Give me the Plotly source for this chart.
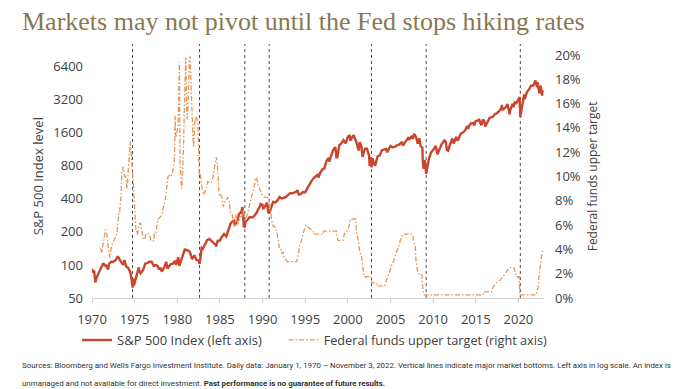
import plotly.graph_objects as go

# ---------------- data ----------------
sp_dates = [
    "1970-01-02", "1970-01-30", "1970-03-31", "1970-05-26", "1970-07-31", "1970-09-30", "1970-12-31",
    "1971-03-31", "1971-04-28", "1971-06-30", "1971-08-31", "1971-11-23", "1971-12-31",
    "1972-03-31", "1972-06-30", "1972-09-29", "1972-12-29",
    "1973-01-11", "1973-03-30", "1973-06-29", "1973-08-22", "1973-10-26", "1973-12-31",
    "1974-03-29", "1974-06-28", "1974-08-30", "1974-10-03", "1974-11-08", "1974-12-06", "1974-12-31",
    "1975-03-31", "1975-06-30", "1975-07-15", "1975-09-16", "1975-12-31",
    "1976-03-31", "1976-06-30", "1976-09-21", "1976-12-31",
    "1977-03-31", "1977-06-30", "1977-09-30", "1977-11-02", "1977-12-30",
    "1978-03-06", "1978-06-30", "1978-09-12", "1978-11-14", "1978-12-29",
    "1979-03-30", "1979-06-29", "1979-09-28", "1979-11-07", "1979-12-31",
    "1980-02-13", "1980-03-27", "1980-06-30", "1980-09-30", "1980-11-28", "1980-12-31",
    "1981-03-31", "1981-06-30", "1981-09-25", "1981-12-31",
    "1982-03-31", "1982-06-30", "1982-08-12", "1982-09-30", "1982-11-09", "1982-12-31",
    "1983-03-31", "1983-06-30", "1983-10-10", "1983-12-30",
    "1984-03-30", "1984-06-29", "1984-07-24", "1984-09-28", "1984-12-31",
    "1985-03-29", "1985-06-28", "1985-09-30", "1985-12-31",
    "1986-03-31", "1986-06-30", "1986-08-29", "1986-09-29", "1986-12-31",
    "1987-03-31", "1987-06-30", "1987-08-25", "1987-10-19", "1987-12-04", "1987-12-31",
    "1988-03-31", "1988-06-30", "1988-09-30", "1988-12-30",
    "1989-03-31", "1989-06-30", "1989-09-29", "1989-10-09", "1989-12-29",
    "1990-01-30", "1990-03-30", "1990-06-29", "1990-07-16", "1990-08-23", "1990-10-11", "1990-12-31",
    "1991-03-28", "1991-06-28", "1991-09-30", "1991-12-31",
    "1992-03-31", "1992-06-30", "1992-09-30", "1992-12-31",
    "1993-03-31", "1993-06-30", "1993-09-30", "1993-12-31",
    "1994-02-02", "1994-04-04", "1994-06-30", "1994-09-30", "1994-12-30",
    "1995-03-31", "1995-06-30", "1995-09-29", "1995-12-29",
    "1996-03-29", "1996-06-28", "1996-07-24", "1996-09-30", "1996-12-31",
    "1997-03-31", "1997-06-30", "1997-09-30", "1997-10-27", "1997-12-31",
    "1998-03-31", "1998-07-17", "1998-08-31", "1998-10-08", "1998-12-31",
    "1999-03-31", "1999-06-30", "1999-09-30", "1999-12-31",
    "2000-03-24", "2000-04-14", "2000-06-30", "2000-09-01", "2000-12-29",
    "2001-03-30", "2001-04-04", "2001-05-21", "2001-07-31", "2001-09-21", "2001-12-31",
    "2002-03-28", "2002-06-28", "2002-07-23", "2002-08-22", "2002-10-09", "2002-11-27", "2002-12-31",
    "2003-03-11", "2003-06-30", "2003-09-30", "2003-12-31",
    "2004-03-31", "2004-06-30", "2004-08-12", "2004-12-31",
    "2005-03-31", "2005-06-30", "2005-09-30", "2005-12-30",
    "2006-03-31", "2006-05-05", "2006-06-13", "2006-09-29", "2006-12-29",
    "2007-02-20", "2007-03-14", "2007-06-29", "2007-08-15", "2007-10-09", "2007-12-31",
    "2008-03-10", "2008-05-19", "2008-07-15", "2008-09-30", "2008-10-10", "2008-11-20", "2008-12-31",
    "2009-01-30", "2009-02-27", "2009-03-09", "2009-06-30", "2009-09-30", "2009-12-31",
    "2010-04-23", "2010-07-02", "2010-09-30", "2010-12-31",
    "2011-04-29", "2011-06-30", "2011-08-08", "2011-10-03", "2011-12-30",
    "2012-04-02", "2012-06-01", "2012-09-14", "2012-11-15", "2012-12-31",
    "2013-03-28", "2013-06-28", "2013-09-30", "2013-12-31",
    "2014-02-03", "2014-03-31", "2014-06-30", "2014-09-30", "2014-10-15", "2014-12-31",
    "2015-03-31", "2015-05-21", "2015-08-25", "2015-11-03", "2015-12-31",
    "2016-02-11", "2016-06-30", "2016-08-15", "2016-12-30",
    "2017-03-31", "2017-06-30", "2017-09-29", "2017-12-29",
    "2018-01-26", "2018-02-08", "2018-06-29", "2018-09-20", "2018-12-24", "2018-12-31",
    "2019-03-29", "2019-04-30", "2019-06-03", "2019-07-26", "2019-09-30", "2019-12-31",
    "2020-02-19", "2020-03-23", "2020-06-30", "2020-09-02", "2020-09-23", "2020-12-31",
    "2021-03-31", "2021-06-30", "2021-09-30", "2021-12-31",
    "2022-01-03", "2022-03-08", "2022-03-29", "2022-06-16", "2022-08-16", "2022-09-30",
    "2022-10-12", "2022-10-28", "2022-11-03",
]
sp_values = [
    93, 85, 89, 69.3, 78, 84, 92,
    100, 104, 99, 99, 91, 102,
    107, 107, 110, 118,
    120, 112, 104, 100, 111, 97,
    94, 86, 72, 62.3, 75, 65, 68.6,
    83, 95, 89, 84, 90,
    103, 104, 107, 107,
    98, 100, 97, 91, 95,
    87, 95.5, 106.9, 92.5, 96,
    102, 103, 109, 99.9, 108,
    118, 98.2, 114, 125, 140.5, 135.8,
    136, 131, 112.8, 122.5,
    111, 110, 102.4, 120, 143, 140.6,
    153, 168, 172.6, 164.9,
    159, 153, 147.8, 166, 167,
    181, 191, 182, 211,
    238, 250, 253, 231, 242,
    291, 304, 336.8, 224.8, 223.9, 247,
    258, 273, 271, 277.7,
    294, 317, 349, 359.8, 353.4,
    322, 339, 358, 368.9, 307, 295.5, 330.2,
    375, 371, 387, 417,
    403, 408, 417, 435.7,
    451, 450, 458, 466.5,
    482, 438, 444, 462, 459,
    500, 544, 584, 615.9,
    645, 670, 626, 687, 740.7,
    757, 885, 947, 876, 970.4,
    1101, 1186, 957, 959, 1229,
    1286, 1372, 1282, 1469,
    1527, 1356, 1454, 1520, 1320,
    1160, 1103, 1312, 1211, 965.8, 1148,
    1147, 990, 797.7, 962, 776.8, 938, 880,
    800.7, 975, 996, 1112,
    1126, 1141, 1063, 1212,
    1181, 1191, 1229, 1248,
    1295, 1325, 1223, 1336, 1418,
    1460, 1377, 1503, 1406, 1565, 1468,
    1273, 1426, 1214, 1166, 899, 752, 903,
    826, 735, 676.5, 919, 1057, 1115,
    1217, 1022, 1141, 1258,
    1364, 1321, 1119, 1099, 1258,
    1419, 1278, 1466, 1353, 1426,
    1569, 1606, 1682, 1848,
    1742, 1872, 1960, 1972, 1862, 2059,
    2068, 2131, 1868, 2109, 2044,
    1829, 2099, 2190, 2239,
    2363, 2423, 2519, 2674,
    2873, 2581, 2718, 2931, 2351, 2507,
    2834, 2946, 2744, 3025, 2977, 3231,
    3386, 2237, 3100, 3580, 3237, 3756,
    3973, 4298, 4308, 4766,
    4796, 4170, 4632, 3667, 4305, 3586,
    3577, 3901, 3720,
]

ff_dates = [
    "1971-01", "1971-02", "1971-03", "1971-04", "1971-05", "1971-06", "1971-07", "1971-08", "1971-09", "1971-10", "1971-11", "1971-12",
    "1972-01", "1972-02", "1972-03", "1972-04", "1972-05", "1972-06", "1972-07", "1972-08", "1972-09", "1972-10", "1972-11", "1972-12",
    "1973-01", "1973-02", "1973-03", "1973-04", "1973-05", "1973-06", "1973-07", "1973-08", "1973-09", "1973-10", "1973-11", "1973-12",
    "1974-01", "1974-02", "1974-03", "1974-04", "1974-05", "1974-06", "1974-07", "1974-08", "1974-09", "1974-10", "1974-11", "1974-12",
    "1975-01", "1975-02", "1975-03", "1975-04", "1975-05", "1975-06", "1975-07", "1975-08", "1975-09", "1975-10", "1975-11", "1975-12",
    "1976-01", "1976-03", "1976-05", "1976-07", "1976-09", "1976-11", "1976-12",
    "1977-02", "1977-04", "1977-05", "1977-07", "1977-08", "1977-09", "1977-10", "1977-12",
    "1978-02", "1978-04", "1978-05", "1978-06", "1978-07", "1978-08", "1978-09", "1978-10", "1978-11", "1978-12",
    "1979-02", "1979-04", "1979-06", "1979-07", "1979-08", "1979-09", "1979-10", "1979-11", "1979-12",
    "1980-01", "1980-02", "1980-03", "1980-04", "1980-05", "1980-06", "1980-07", "1980-08", "1980-09", "1980-10", "1980-11", "1980-12",
    "1981-01", "1981-02", "1981-03", "1981-04", "1981-05", "1981-06", "1981-07", "1981-08", "1981-09", "1981-10", "1981-11", "1981-12",
    "1982-01", "1982-02", "1982-03", "1982-04", "1982-05", "1982-06", "1982-07", "1982-08", "1982-09", "1982-10", "1982-11", "1982-12",
    "1983-02", "1983-04", "1983-06", "1983-08", "1983-10", "1983-12",
    "1984-02", "1984-03", "1984-04", "1984-06", "1984-07", "1984-08", "1984-09", "1984-10", "1984-11", "1984-12",
    "1985-02", "1985-04", "1985-06", "1985-08", "1985-10", "1985-12",
    "1986-02", "1986-03", "1986-04", "1986-06", "1986-08", "1986-09", "1986-11", "1986-12",
    "1987-02", "1987-04", "1987-06", "1987-08", "1987-09", "1987-10", "1987-11", "1987-12",
    "1988-02", "1988-04", "1988-06", "1988-08", "1988-10", "1988-12",
    "1989-02", "1989-03", "1989-05", "1989-07", "1989-09", "1989-11", "1989-12",
    "1990-03", "1990-06", "1990-09", "1990-11", "1990-12",
    "1991-01", "1991-02", "1991-04", "1991-06", "1991-08", "1991-10", "1991-11", "1991-12",
    "1992-01", "1992-03", "1992-04", "1992-06", "1992-07", "1992-09", "1992-12",
    "1994-01", "1994-02", "1994-03", "1994-04", "1994-05", "1994-08", "1994-11",
    "1995-02", "1995-07", "1995-12", "1996-01", "1997-02", "1997-03",
    "1998-09", "1998-10", "1998-11", "1999-06", "1999-07", "1999-08", "1999-11",
    "2000-02", "2000-03", "2000-05", "2000-12",
    "2001-01", "2001-03", "2001-04", "2001-05", "2001-06", "2001-08", "2001-09", "2001-10", "2001-11", "2001-12",
    "2002-10", "2002-11", "2003-05", "2003-06", "2004-05", "2004-06", "2004-08", "2004-09", "2004-11", "2004-12",
    "2005-02", "2005-03", "2005-05", "2005-06", "2005-08", "2005-09", "2005-11", "2005-12",
    "2006-01", "2006-03", "2006-05", "2006-06", "2007-08", "2007-09", "2007-10", "2007-12",
    "2008-01", "2008-03", "2008-04", "2008-09", "2008-10", "2008-12",
    "2015-11", "2015-12", "2016-11", "2016-12", "2017-03", "2017-06", "2017-12",
    "2018-03", "2018-06", "2018-09", "2018-12", "2019-07", "2019-08", "2019-09", "2019-10",
    "2020-02", "2020-03", "2022-02", "2022-03", "2022-05", "2022-06", "2022-07", "2022-09", "2022-11",
]
ff_values = [
    4.1, 3.7, 3.7, 4.2, 4.6, 4.9, 5.3, 5.6, 5.5, 5.2, 4.9, 4.1,
    3.5, 3.3, 3.8, 4.2, 4.3, 4.5, 4.6, 4.8, 4.9, 5.0, 5.1, 5.3,
    5.9, 6.6, 7.1, 7.1, 7.8, 8.5, 10.4, 10.5, 10.8, 10.0, 10.0, 10.0,
    9.7, 9.0, 9.4, 10.5, 11.3, 11.9, 12.9, 12.0, 11.3, 10.1, 9.5, 8.5,
    7.1, 6.2, 5.5, 5.5, 5.2, 5.6, 6.1, 6.1, 6.2, 5.8, 5.2, 5.2,
    4.9, 4.8, 5.3, 5.3, 5.3, 5.0, 4.7,
    4.7, 4.7, 5.4, 5.4, 5.9, 6.1, 6.5, 6.6,
    6.8, 6.9, 7.4, 7.6, 7.8, 8.0, 8.5, 9.0, 9.8, 10.0,
    10.1, 10.0, 10.3, 10.5, 10.9, 11.4, 15.0, 13.2, 13.8,
    13.8, 14.1, 17.2, 19.4, 11.0, 9.5, 9.0, 9.6, 10.9, 12.8, 15.9, 19.5,
    19.8, 15.9, 14.7, 15.7, 18.5, 19.5, 19.9, 17.8, 15.9, 15.1, 13.3, 12.4,
    13.2, 14.8, 14.7, 14.9, 14.5, 14.2, 12.6, 10.1, 10.3, 9.7, 9.2, 9.0,
    8.5, 8.8, 9.0, 9.6, 9.5, 9.5,
    9.6, 9.9, 10.3, 11.1, 11.2, 11.6, 11.3, 10.0, 9.4, 8.4,
    8.5, 8.3, 7.5, 7.9, 8.0, 8.3,
    7.9, 7.5, 7.0, 6.9, 6.2, 5.9, 6.0, 6.9,
    6.1, 6.4, 6.7, 6.7, 7.2, 7.3, 6.7, 6.8,
    6.6, 6.9, 7.5, 8.0, 8.3, 8.8,
    9.4, 9.9, 9.8, 9.2, 9.0, 8.6, 8.5,
    8.3, 8.3, 8.2, 7.8, 7.3,
    6.9, 6.3, 5.9, 5.9, 5.7, 5.2, 4.8, 4.4,
    4.0, 4.0, 3.7, 3.8, 3.3, 3.2, 3.0,
    3.0, 3.25, 3.5, 3.75, 4.25, 4.75, 5.5,
    6.0, 5.75, 5.5, 5.25, 5.25, 5.5,
    5.5, 5.0, 4.75, 4.75, 5.0, 5.25, 5.5,
    5.75, 6.0, 6.5, 6.5,
    5.5, 5.0, 4.5, 4.0, 3.75, 3.5, 3.0, 2.5, 2.0, 1.75,
    1.75, 1.25, 1.25, 1.0, 1.0, 1.25, 1.5, 1.75, 2.0, 2.25,
    2.5, 2.75, 3.0, 3.25, 3.5, 3.75, 4.0, 4.25,
    4.5, 4.75, 5.0, 5.25, 5.25, 4.75, 4.5, 4.25,
    3.0, 2.25, 2.0, 2.0, 1.0, 0.25,
    0.25, 0.5, 0.5, 0.75, 1.0, 1.25, 1.5,
    1.75, 2.0, 2.25, 2.5, 2.5, 2.25, 2.0, 1.75,
    1.75, 0.25, 0.25, 0.5, 1.0, 1.75, 2.5, 3.25, 4.0,
]

market_bottoms = ["1974-10-03", "1982-08-12", "1987-12-04", "1990-10-11",
                  "2002-10-09", "2009-03-09", "2020-03-23"]

left_ticks = [50, 100, 200, 400, 800, 1600, 3200, 6400]
right_ticks = [0, 2, 4, 6, 8, 10, 12, 14, 16, 18, 20]
year_ticks = [str(y) for y in range(1970, 2021, 5)]

title_text = "Markets may not pivot until the Fed stops hiking rates"
note_line1 = ("Sources: Bloomberg and Wells Fargo Investment Institute. Daily data: January 1, 1970 \u2013 "
              "November 3, 2022. Vertical lines indicate major market bottoms. Left axis in log scale. An index is")
note_line2 = ("unmanaged and not available for direct investment. "
              "<b>Past performance is no guarantee of future results.</b>")

# ---------------- figure ----------------
SANS = "Open Sans, Noto Sans, sans-serif"
TICK_FONT = dict(family=SANS, size=13, color="#404040")

fig = go.Figure()
fig.add_trace(go.Scatter(
    x=sp_dates, y=sp_values, mode="lines", name="S&P 500 Index (left axis)",
    line=dict(color="#c9452b", width=2.4), yaxis="y", legend="legend"))
fig.add_trace(go.Scatter(
    x=ff_dates, y=ff_values, mode="lines", name="Federal funds upper target (right axis)",
    line=dict(color="#e3965a", width=1.3, dash="5px,2px,1.5px,2px"), yaxis="y2", legend="legend2"))

for d in market_bottoms:
    fig.add_shape(type="line", xref="x", yref="paper", x0=d, x1=d, y0=0, y1=1.045,
                  line=dict(color="#4a4a4a", width=1, dash="dot"), layer="below")

fig.update_layout(
    width=700, height=389,
    margin=dict(l=92, r=156, t=55, b=91),
    paper_bgcolor="white", plot_bgcolor="white",
    showlegend=True,
    legend=dict(orientation="h", x=-0.033, y=-0.173, xanchor="left", yanchor="middle",
                font=dict(family=SANS, size=13, color="#404040"), bgcolor="rgba(0,0,0,0)"),
    legend2=dict(orientation="h", x=0.424, y=-0.173, xanchor="left", yanchor="middle",
                 font=dict(family=SANS, size=12.7, color="#404040"), bgcolor="rgba(0,0,0,0)"),
    xaxis=dict(type="date", range=["1970-01-01", "2023-01-01"],
               tickvals=[y + "-01-01" for y in year_ticks], ticktext=year_ticks,
               showgrid=False, zeroline=False, showline=True, linecolor="#d0d0d0", linewidth=1,
               ticks="outside", ticklen=4, tickcolor="#d0d0d0", tickfont=TICK_FONT,
               ticklabelstandoff=5),
    yaxis=dict(type="log", range=[1.69897, 3.913], tickvals=left_ticks,
               ticktext=[str(v) for v in left_ticks],
               showgrid=False, zeroline=False, showline=False, ticks="",
               tickfont=TICK_FONT, ticklabelstandoff=8),
    yaxis2=dict(overlaying="y", side="right", range=[0, 20], tickvals=right_ticks,
                ticktext=[f"{v}%" for v in right_ticks],
                showgrid=False, zeroline=False, showline=False, ticks="",
                tickfont=TICK_FONT, ticklabelstandoff=10),
)

fig.add_annotation(text=title_text, xref="paper", yref="paper", x=-0.159, y=1.136,
                   xanchor="left", yanchor="middle", showarrow=False,
                   font=dict(family="Liberation Serif, serif", size=26, color="#8a7750"))
fig.add_annotation(text="S&P 500 Index level", xref="paper", yref="paper", x=-0.12, y=0.5,
                   xanchor="center", yanchor="middle", textangle=-90, showarrow=False,
                   font=dict(family=SANS, size=13, color="#404040"))
fig.add_annotation(text="Federal funds upper target", xref="paper", yref="paper", x=1.108, y=0.5,
                   xanchor="center", yanchor="middle", textangle=-90, showarrow=False,
                   font=dict(family=SANS, size=12, color="#404040"))
NOTE_FONT = dict(family="Roboto, Liberation Sans, sans-serif", size=7.9, color="#303030")
fig.add_annotation(text=note_line1, xref="paper", yref="paper", x=-0.159, y=-0.278,
                   xanchor="left", yanchor="middle", showarrow=False, font=NOTE_FONT)
fig.add_annotation(text=note_line2, xref="paper", yref="paper", x=-0.159, y=-0.350,
                   xanchor="left", yanchor="middle", showarrow=False, font=NOTE_FONT)

fig.write_html("out.html", config={"displayModeBar": False},
               post_script="document.body.style.margin='0';")
